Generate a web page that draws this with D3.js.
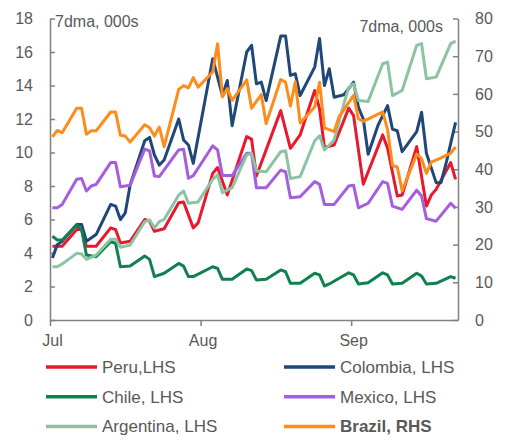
<!DOCTYPE html>
<html>
<head>
<meta charset="utf-8">
<script src="https://cdn.jsdelivr.net/npm/d3@7"></script>
<style>
  body { margin: 0; background: #fff; }
  svg text { font-family: "Liberation Sans", Arial, sans-serif; fill: #595959; }
</style>
</head>
<body>
<div id="chart"></div>
<script>
// days counted from 1 Jul 2020, values are 7-day averages in thousands
const peruDays = [0, 2, 5, 6, 7, 9, 12, 13, 14, 16, 19, 20, 21, 23, 26, 27, 29, 30, 33, 34, 36, 40, 41, 42, 47, 49, 51, 54, 55, 56, 58, 61, 62, 64, 68, 69, 71, 72, 75, 77, 78, 79, 82, 83];
const peruVals = [4.4, 4.4, 5.4, 5.4, 4.4, 4.4, 5.5, 5.4, 4.6, 4.7, 6.0, 5.9, 5.3, 5.45, 7.0, 7.05, 5.5, 5.8, 8.75, 9.1, 7.46, 10.95, 10.8, 8.6, 12.5, 10.25, 11.05, 13.7, 12.6, 10.3, 10.45, 12.65, 12.2, 8.1, 11.05, 10.25, 7.4, 7.46, 10.35, 6.8, 7.46, 7.8, 9.4, 8.4];

const colombiaDays = [0, 1, 2, 5, 6, 7, 9, 12, 13, 14, 15, 16, 19, 20, 21, 22, 23, 26, 27, 28, 29, 33, 35, 36, 37, 40, 41, 42, 43, 44, 47, 48, 49, 50, 51, 54, 55, 56, 57, 58, 60, 62, 63, 64, 65, 67, 69, 70, 71, 72, 75, 76, 77, 79, 80, 81, 83];
const colombiaVals = [3.7, 4.5, 4.7, 5.7, 5.7, 4.7, 5.1, 6.9, 6.8, 6.0, 6.4, 8.06, 10.7, 10.9, 9.85, 9.25, 9.55, 12.0, 10.75, 10.45, 9.35, 15.6, 13.4, 14.3, 11.6, 16.0, 16.4, 14.1, 14.2, 13.1, 16.95, 16.95, 14.6, 14.7, 13.4, 15.1, 16.8, 14.0, 15.0, 13.3, 13.45, 14.2, 12.7, 12.0, 9.9, 11.6, 12.8, 11.4, 11.3, 10.05, 11.25, 12.4, 9.95, 8.2, 8.2, 9.3, 11.8];

const chileDays = [0, 1, 2, 5, 6, 7, 9, 12, 13, 14, 16, 19, 20, 21, 23, 26, 27, 28, 29, 33, 34, 35, 37, 40, 41, 42, 44, 47, 48, 49, 51, 54, 55, 56, 57, 61, 62, 63, 65, 68, 69, 70, 72, 75, 76, 77, 79, 82, 83];
const chileVals = [5.0, 4.78, 4.78, 5.67, 5.4, 3.88, 3.78, 4.67, 4.58, 3.18, 3.22, 3.82, 3.62, 2.59, 2.79, 3.38, 3.22, 2.59, 2.59, 3.18, 3.08, 2.43, 2.43, 3.05, 2.95, 2.39, 2.43, 2.99, 2.88, 2.19, 2.19, 2.79, 2.69, 2.03, 2.15, 2.82, 2.69, 2.15, 2.23, 2.82, 2.69, 2.15, 2.19, 2.79, 2.63, 2.15, 2.19, 2.59, 2.49];

const mexicoDays = [0, 1, 2, 5, 6, 7, 8, 9, 12, 13, 14, 16, 19, 20, 21, 22, 26, 27, 28, 29, 33, 34, 35, 37, 40, 41, 42, 44, 47, 48, 49, 51, 54, 55, 56, 58, 61, 62, 63, 65, 68, 69, 70, 72, 75, 76, 77, 79, 82, 83];
const mexicoVals = [6.7, 6.7, 6.9, 8.4, 8.45, 7.7, 8.0, 8.1, 9.4, 9.4, 7.95, 8.05, 10.2, 10.1, 8.6, 8.56, 10.15, 10.2, 8.46, 8.62, 10.4, 10.15, 8.62, 8.62, 9.95, 9.95, 7.9, 7.9, 8.95, 8.85, 7.3, 7.36, 8.26, 8.1, 6.9, 6.9, 8.0, 8.05, 6.7, 6.97, 8.26, 8.16, 6.8, 6.6, 7.75, 7.4, 6.05, 5.9, 6.97, 6.67];

const argentinaDays = [0, 1, 2, 5, 6, 7, 9, 12, 13, 14, 16, 19, 20, 21, 22, 23, 26, 27, 28, 30, 33, 34, 35, 37, 40, 41, 42, 44, 47, 48, 49, 51, 54, 55, 56, 58, 60, 61, 62, 63, 65, 68, 69, 70, 72, 75, 76, 77, 79, 82, 83];
const argentinaVals = [3.18, 3.18, 3.34, 3.98, 3.94, 3.62, 3.88, 4.82, 4.82, 4.34, 4.48, 5.87, 5.97, 5.5, 5.87, 6.0, 7.46, 7.7, 6.97, 7.05, 8.4, 8.66, 7.6, 7.9, 9.85, 9.95, 8.9, 8.85, 10.05, 10.1, 8.45, 8.56, 10.7, 11.0, 10.15, 10.75, 12.9, 13.9, 14.1, 13.1, 13.05, 15.3, 15.4, 13.4, 13.7, 16.4, 16.5, 14.4, 14.5, 16.5, 16.65];

// Brazil is read on the right-hand axis
const brazilDays = [0, 1, 2, 5, 6, 7, 8, 9, 12, 13, 14, 15, 16, 19, 20, 21, 22, 23, 26, 27, 28, 29, 30, 33, 34, 35, 36, 37, 40, 41, 43, 44, 47, 48, 49, 50, 51, 54, 55, 56, 58, 59, 62, 63, 64, 68, 69, 70, 71, 72, 75, 76, 77, 78, 80, 82, 83];
const brazilVals = [48.6, 50.3, 49.7, 56.2, 56.2, 49.3, 50.2, 50.2, 55.2, 55.2, 49.0, 48.8, 47.2, 51.8, 51.0, 48.8, 51.2, 46.0, 61.2, 62.2, 61.6, 64.3, 61.8, 65.8, 73.3, 59.2, 61.4, 58.3, 63.7, 56.2, 59.8, 52.1, 63.8, 63.1, 56.8, 63.2, 52.3, 56.5, 63.1, 51.0, 50.0, 53.9, 59.6, 53.4, 52.7, 55.2, 50.5, 41.0, 40.6, 34.3, 44.0, 42.8, 38.9, 41.9, 43.0, 44.3, 45.9];

const leftTicks = [0, 2, 4, 6, 8, 10, 12, 14, 16, 18];
const rightTicks = [0, 10, 20, 30, 40, 50, 60, 70, 80];
const monthTicks = ["2020-07-01", "2020-08-01", "2020-09-01"];
const unitLabel = "7dma, 000s";

// series table built from the arrays above
const series = [
  {name: "Peru,LHS", days: peruDays, vals: peruVals, color: "#e8192c", axis: "left"},
  {name: "Colombia, LHS", days: colombiaDays, vals: colombiaVals, color: "#1f4778", axis: "left"},
  {name: "Chile, LHS", days: chileDays, vals: chileVals, color: "#11804f", axis: "left"},
  {name: "Mexico, LHS", days: mexicoDays, vals: mexicoVals, color: "#a65ee0", axis: "left"},
  {name: "Argentina, LHS", days: argentinaDays, vals: argentinaVals, color: "#8cc4a2", axis: "left"},
  {name: "Brazil, RHS", days: brazilDays, vals: brazilVals, color: "#ff8b1a", axis: "right", bold: true}
];

var width = 508;
var height = 440;
var plot = {left: 50, right: 458, top: 18.5, bottom: 320};
var axisColor = "#808080";

var svg = d3.select("#chart")
            .append("svg")
            .attr("width", width)
            .attr("height", height);

var parseDay = d3.timeParse("%Y-%m-%d");
var start = new Date(2020, 6, 1);
var xScale = d3.scaleTime()
               .domain([start, new Date(2020, 8, 23)])
               .range([plot.left, plot.right]);
var yLeft = d3.scaleLinear().domain([0, 18]).range([plot.bottom, plot.top]);
var yRight = d3.scaleLinear().domain([0, 80]).range([plot.bottom, plot.top]);

// each daily value sits in the middle of its day
function dayX(d) { return xScale(new Date(2020, 6, 1 + d, 12)); }

// x axis
var xAxis = svg.append("g")
   .attr("transform", "translate(0," + plot.bottom + ")")
   .call(d3.axisBottom(xScale)
           .tickValues(monthTicks.map(parseDay))
           .tickFormat(d3.timeFormat("%b"))
           .tickSize(6)
           .tickSizeOuter(0)
           .tickPadding(9));
xAxis.selectAll("text").attr("dx", 2);

// left axis, ticks point inward
var yAxisL = svg.append("g")
   .attr("transform", "translate(" + plot.left + ",0)")
   .call(d3.axisLeft(yLeft)
           .tickValues(leftTicks)
           .tickSize(-5)
           .tickSizeOuter(0)
           .tickPadding(17));

// right axis
var yAxisR = svg.append("g")
   .attr("transform", "translate(" + plot.right + ",0)")
   .call(d3.axisRight(yRight)
           .tickValues(rightTicks)
           .tickSize(-5)
           .tickSizeOuter(0)
           .tickPadding(17));

svg.selectAll(".domain, .tick line")
   .attr("stroke", axisColor)
   .attr("stroke-width", 1.5);
svg.selectAll(".tick text")
   .attr("font-size", 16)
   .style("fill", "#595959");

// unit labels
svg.append("text")
   .attr("x", plot.left + 5)
   .attr("y", 27)
   .attr("font-size", 16)
   .text(unitLabel);
svg.append("text")
   .attr("x", plot.right - 15)
   .attr("y", 32)
   .attr("text-anchor", "end")
   .attr("font-size", 16)
   .text(unitLabel);

// lines
series.forEach(function(s) {
  var y = s.axis === "left" ? yLeft : yRight;
  var line = d3.line()
               .x(function(d) { return dayX(d[0]); })
               .y(function(d) { return y(d[1]); });
  svg.append("path")
     .datum(d3.zip(s.days, s.vals))
     .attr("fill", "none")
     .attr("stroke", s.color)
     .attr("stroke-width", 3)
     .attr("stroke-linejoin", "round")
     .attr("d", line);
});

// legend, two columns
var legend = svg.append("g");
series.forEach(function(s, i) {
  var col = i % 2;
  var row = Math.floor(i / 2);
  var lx = col === 0 ? 46 : 284;
  var ly = 367 + row * 29.7;
  legend.append("line")
        .attr("x1", lx)
        .attr("x2", lx + 51)
        .attr("y1", ly)
        .attr("y2", ly)
        .attr("stroke", s.color)
        .attr("stroke-width", 3.5);
  legend.append("text")
        .attr("x", lx + 56)
        .attr("y", ly + 6)
        .attr("font-size", 17)
        .attr("font-weight", s.bold ? "bold" : "normal")
        .text(s.name);
});
</script>
</body>
</html>
